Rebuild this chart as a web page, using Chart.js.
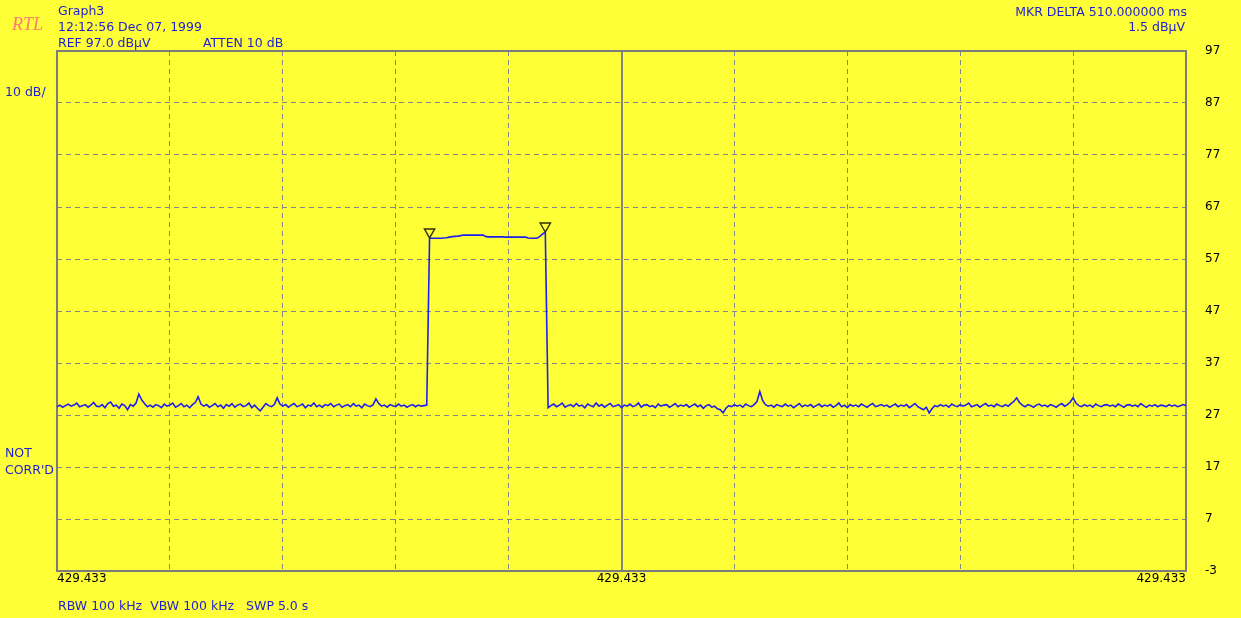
<!DOCTYPE html>
<html>
<head>
<meta charset="utf-8">
<script src="https://cdn.jsdelivr.net/npm/chart.js@4"></script>
<style>
  body { margin: 0; background: #ffff38; }
  #wrap { position: relative; width: 1241px; height: 618px; background: #ffff38; overflow: hidden; }
  .lbl { position: absolute; font: 12.5px "DejaVu Sans", sans-serif; line-height: 14px; color: #1e1ed2; white-space: pre; }
  .rtl { position: absolute; left: 12px; top: 13px; font: italic 18px "Liberation Serif", serif; line-height: 22px; color: #ff7a78; }
</style>
</head>
<body>
<div id="wrap">
  <canvas id="spectrum"></canvas>
  <div class="rtl">RTL</div>
  <div class="lbl" style="left:58px; top:4px">Graph3</div>
  <div class="lbl" style="left:58px; top:20px">12:12:56 Dec 07, 1999</div>
  <div class="lbl" style="left:58px; top:36px">REF 97.0 dBµV</div>
  <div class="lbl" style="left:203px; top:36px">ATTEN 10 dB</div>
  <div class="lbl" style="right:54px; top:5px">MKR DELTA 510.000000 ms</div>
  <div class="lbl" style="right:56px; top:20px">1.5 dBµV</div>
  <div class="lbl" style="left:5px; top:85px">10 dB/</div>
  <div class="lbl" style="left:5px; top:446px">NOT</div>
  <div class="lbl" style="left:5px; top:463px">CORR'D</div>
  <div class="lbl" style="left:58px; top:599px">RBW 100 kHz  VBW 100 kHz   SWP 5.0 s</div>
</div>
<script>
// trace: 401 sweep points, dBµV
const traceLeft = [
  28.6, 28.9, 28.5, 28.8, 29.1, 28.7, 28.9, 29.3, 28.6, 28.8, 29.0, 28.5, 28.9, 29.4, 28.7, 28.6, 29.0, 28.4, 29.2, 29.5,
  28.7, 28.9, 28.3, 29.1, 28.8, 28.0, 29.0, 28.7, 29.3, 31.0, 29.9, 29.2, 28.6, 28.9, 28.5, 29.0, 28.8, 28.4, 29.1, 28.7,
  28.9, 29.3, 28.5, 28.8, 29.2, 28.6, 28.9, 28.4, 29.0, 29.4, 30.5, 29.1, 28.7, 29.0, 28.5, 28.8, 29.2, 28.6, 28.9, 28.3,
  29.0, 28.7, 29.2, 28.5, 28.9, 29.1, 28.6, 28.8, 29.3, 28.4, 28.9, 28.3, 27.8, 28.5, 29.2, 28.8, 28.6, 29.0, 30.3, 29.1,
  28.7, 29.0, 28.5, 28.9, 29.2, 28.6, 28.8, 29.1, 28.4, 28.9, 28.7, 29.3, 28.6, 28.9, 28.5, 29.0, 28.8, 29.2, 28.6, 28.9,
  29.1, 28.5, 28.8, 29.0, 28.6, 29.2, 28.7, 28.9, 28.4, 29.1, 28.8, 28.6, 29.0, 30.1, 29.2, 28.7, 28.9, 28.5, 29.0, 28.8,
  28.6, 29.1, 28.7, 28.9, 28.5, 28.8, 29.0, 28.6, 28.9, 28.7, 28.8, 28.9
];
const traceSignal = [
  61.0, 61.0, 61.0, 61.0, 61.0, 61.05, 61.1, 61.2, 61.3, 61.35, 61.4, 61.5, 61.6, 61.6,
  61.6, 61.6, 61.6, 61.6, 61.6, 61.6, 61.3, 61.25, 61.25, 61.25, 61.25, 61.25, 61.25, 61.2,
  61.2, 61.2, 61.2, 61.2, 61.2, 61.2, 61.2, 61.05, 61.0, 61.0, 61.0, 61.3, 61.8, 62.2
];
const traceRight = [
  28.4, 28.8, 29.1, 28.6, 28.9, 29.3, 28.5, 28.8, 29.0, 28.6, 29.2, 28.7, 28.9, 28.4, 29.1, 28.8, 28.6, 29.3, 28.7, 29.0,
  28.5, 28.9, 29.2, 28.6, 28.8, 29.0, 28.4, 28.9, 28.7, 29.1, 28.6, 28.8, 29.3, 28.5, 28.9, 29.0, 28.6, 28.8, 28.4, 29.1,
  28.7, 28.9, 29.0, 28.5, 28.8, 29.2, 28.6, 28.9, 28.7, 29.0, 28.5, 28.8, 29.1, 28.6, 28.9, 28.3, 28.8, 29.0, 28.5, 28.7,
  28.2, 28.0, 27.4, 28.3, 28.8, 28.6, 29.0, 28.7, 28.9, 28.5, 29.1, 28.8, 28.6, 29.0, 29.6, 31.5, 29.8, 29.0, 28.7, 28.9,
  28.5, 29.0, 28.8, 28.6, 29.1, 28.7, 28.9, 28.4, 28.8, 29.2, 28.6, 28.9, 28.7, 29.0, 28.5, 28.8, 29.1, 28.6, 28.9, 28.7,
  29.0, 28.5, 28.8, 29.3, 28.6, 28.9, 28.4, 29.0, 28.7, 28.9, 28.6, 29.1, 28.8, 28.5, 28.9, 29.2, 28.6, 28.8, 29.0, 28.7,
  28.9, 28.5, 28.8, 29.1, 28.6, 28.9, 28.7, 29.0, 28.4, 28.8, 29.2, 28.6, 28.3, 28.0, 28.5, 27.4, 28.2, 28.8, 28.6, 29.0,
  28.7, 28.9, 28.5, 29.1, 28.8, 28.6, 29.0, 28.7, 28.9, 29.3, 28.6, 28.8, 29.0, 28.5, 28.9, 29.2, 28.7, 28.9, 28.6, 29.1,
  28.8, 28.6, 29.0, 28.7, 29.2, 29.6, 30.3, 29.4, 28.9, 28.6, 29.0, 28.8, 28.5, 28.9, 29.1, 28.7, 28.9, 28.6, 29.0, 28.8,
  28.5, 28.9, 29.2, 28.7, 29.0, 29.5, 30.3, 29.3, 28.8, 28.6, 29.0, 28.7, 28.9, 28.5, 29.1, 28.8, 28.6, 28.9, 29.0, 28.7,
  28.9, 28.6, 29.1, 28.8, 28.5, 28.9, 29.0, 28.7, 28.9, 28.6, 29.2, 28.8, 28.5, 28.9, 28.7, 29.0, 28.6, 28.9, 28.8, 28.6,
  29.0, 28.7, 28.9, 28.6, 28.8, 29.0, 28.8
];

// delta markers (sweep point index, level)
const markerPoints = [132, 173];
const markerLevels = [62.2, 63.35];

// axes
const xGrid = [0, 40, 80, 120, 160, 200, 240, 280, 320, 360, 400];
const xTickLabels = { 0: '429.433', 200: '429.433', 400: '429.433' };
const yTicks = [-3, 7, 17, 27, 37, 47, 57, 67, 77, 87, 97];

const trace = traceLeft.concat(traceSignal, traceRight);
const traceData = trace.map((v, i) => ({ x: i, y: v }));
const markerData = markerPoints.map((p, i) => ({ x: p, y: markerLevels[i] }));

const plotFrame = {
  id: 'plotFrame',
  beforeDatasetsDraw(chart) {
    const a = chart.chartArea;
    const ctx = chart.ctx;
    ctx.save();
    ctx.strokeStyle = '#7c7c7c';
    ctx.lineWidth = 2;
    ctx.strokeRect(a.left, a.top, a.right - a.left, a.bottom - a.top);
    ctx.restore();
  }
};

new Chart(document.getElementById('spectrum'), {
  type: 'line',
  data: {
    datasets: [
      {
        data: traceData,
        borderColor: '#1e1ef0',
        borderWidth: 1.6,
        pointRadius: 0,
        tension: 0,
        order: 2
      },
      {
        data: markerData,
        showLine: false,
        pointStyle: 'triangle',
        rotation: 180,
        pointRadius: 6,
        pointBorderWidth: 1.4,
        pointBorderColor: '#333300',
        pointBackgroundColor: 'rgba(0,0,0,0)',
        order: 1
      }
    ]
  },
  plugins: [plotFrame],
  options: {
    responsive: true,
    maintainAspectRatio: false,
    animation: false,
    layout: { padding: { left: 57, top: 51, right: 0, bottom: 0 } },
    plugins: { legend: { display: false }, tooltip: { enabled: false } },
    scales: {
      x: {
        type: 'linear',
        min: 0,
        max: 400,
        afterBuildTicks: s => { s.ticks = xGrid.map(v => ({ value: v })); },
        afterFit: s => { s.height = 47; },
        ticks: {
          autoSkip: false,
          maxRotation: 0,
          align: 'inner',
          padding: 1,
          color: '#000',
          font: { family: 'DejaVu Sans', size: 12 },
          callback: v => xTickLabels[v] || ''
        },
        grid: {
          color: '#858585',
          lineWidth: ctx => (ctx.tick && ctx.tick.value === 200 ? 2 : 1),
          drawTicks: false
        },
        border: {
          display: false,
          dash: ctx => (ctx.tick && ctx.tick.value === 200 ? [] : [5, 4])
        }
      },
      y: {
        position: 'right',
        min: -3,
        max: 97,
        afterBuildTicks: s => { s.ticks = yTicks.map(v => ({ value: v })); },
        afterFit: s => { s.width = 55; },
        ticks: {
          padding: 19,
          color: '#000',
          font: { family: 'DejaVu Sans', size: 12 }
        },
        grid: { color: '#858585', lineWidth: 1, drawTicks: false },
        border: { display: false, dash: [5, 4] }
      }
    }
  }
});
</script>
</body>
</html>
